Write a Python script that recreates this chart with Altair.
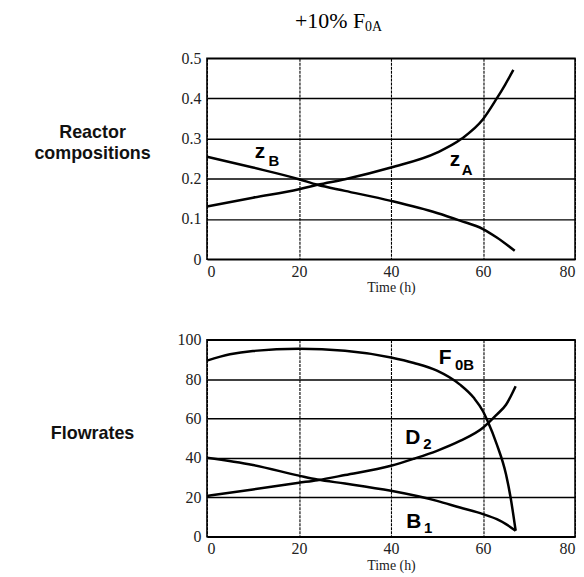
import altair as alt
import pandas as pd

# ---- Top panel: reactor compositions ----
t_zA = [0, 10, 20, 24, 30, 40, 50, 55.4, 60, 63, 64.8, 66.6]
zA = [0.131, 0.153, 0.174, 0.185, 0.199, 0.228, 0.265, 0.300, 0.348, 0.400, 0.434, 0.471]
t_zB = [0, 10, 20, 24, 30, 40, 50, 55, 60, 63, 66.9]
zB = [0.255, 0.228, 0.199, 0.185, 0.170, 0.145, 0.115, 0.096, 0.075, 0.054, 0.021]

# ---- Bottom panel: flowrates ----
t_F0B = [0, 5, 10, 20, 30, 40, 45, 50, 55, 58, 60, 61, 63, 65, 66, 67.1]
F0B = [89.4, 92.6, 94.3, 95.4, 94.4, 91.0, 88.2, 84.3, 77.2, 70.5, 63.7, 58.7, 46.9, 31.7, 19.9, 3.0]
t_D2 = [0, 10, 20, 24, 30, 40, 45, 50, 55, 60, 63, 65, 67.1]
D2 = [20.7, 24.0, 27.4, 28.7, 31.3, 36.0, 39.6, 43.6, 48.6, 55.3, 62.0, 67.0, 76.4]
t_B1 = [0, 10, 20, 24, 30, 40, 50, 55, 60, 63, 65, 67.1]
B1 = [40.1, 36.4, 31.0, 29.0, 27.0, 23.3, 18.2, 14.8, 11.5, 8.9, 6.4, 3.0]

x_ticks = [0, 20, 40, 60, 80]
y_ticks_top = [0, 0.1, 0.2, 0.3, 0.4, 0.5]
y_ticks_bot = [0, 20, 40, 60, 80, 100]

# curve labels: main letter and subscript (t, value, text)
top_main = {"t": [10.4, 52.8], "v": [0.252, 0.233], "s": ["z", "z"]}
top_sub = {"t": [13.4, 55.4], "v": [0.233, 0.210], "s": ["B", "A"]}
bot_main = {"t": [50.4, 43.1, 43.3], "v": [87.9, 47.0, 4.5], "s": ["F", "D", "B"]}
bot_sub = {"t": [53.9, 47.0, 47.2], "v": [84.8, 44.4, 2.0], "s": ["0B", "2", "1"]}

top_df = pd.concat([
    pd.DataFrame({"t": t_zA, "v": zA, "series": "zA"}),
    pd.DataFrame({"t": t_zB, "v": zB, "series": "zB"}),
])
bot_df = pd.concat([
    pd.DataFrame({"t": t_F0B, "v": F0B, "series": "F0B"}),
    pd.DataFrame({"t": t_D2, "v": D2, "series": "D2"}),
    pd.DataFrame({"t": t_B1, "v": B1, "series": "B1"}),
])

W = 370
SANS = "Liberation Sans"
SERIF = "Liberation Serif"


def panel(df, ydom, yticks, yfmt, height, main, sub, side_text, side_y):
    xenc = alt.X("t:Q", scale=alt.Scale(domain=[0, 80], nice=False),
                 axis=alt.Axis(values=x_ticks, tickCount=20, title="Time (h)", grid=True,
                               gridColor="black", gridWidth=1.1, gridDash=[3, 1],
                               labelPadding=4, titlePadding=2, labelOverlap=False))
    yenc = alt.Y("v:Q", scale=alt.Scale(domain=ydom, nice=False),
                 axis=alt.Axis(values=yticks, tickCount=20, title=None, grid=True,
                               format=yfmt, gridColor="black", gridWidth=1.5,
                               labelPadding=6, labelOverlap=False))
    lines = alt.Chart(df).mark_line(color="black", strokeWidth=2.5,
                                    interpolate="monotone").encode(
        x=xenc, y=yenc, detail="series:N")
    m = alt.Chart(pd.DataFrame(main)).mark_text(
        font=SANS, fontWeight="bold", fontSize=21, align="left",
        baseline="alphabetic", color="black").encode(x="t:Q", y="v:Q", text="s:N")
    s = alt.Chart(pd.DataFrame(sub)).mark_text(
        font=SANS, fontWeight="bold", fontSize=15, align="left",
        baseline="alphabetic", color="black").encode(x="t:Q", y="v:Q", text="s:N")
    side = alt.Chart(pd.DataFrame({"a": [0]})).mark_text(
        font=SANS, fontWeight="bold", fontSize=18, align="center",
        baseline="alphabetic", color="#111", lineHeight=21).encode(
        x=alt.value(-115), y=alt.value(side_y), text=alt.value(side_text))
    return alt.layer(lines, m, s, side).properties(width=W, height=height)


top = panel(top_df, [0, 0.5], y_ticks_top, "~g", 202, top_main, top_sub,
            ["Reactor", "compositions"], 80)
bot = panel(bot_df, [0, 100], y_ticks_bot, "d", 198, bot_main, bot_sub,
            ["Flowrates"], 100)

title_main = alt.Chart(pd.DataFrame({"a": [0]})).mark_text(
    font=SERIF, fontSize=22, align="right", baseline="alphabetic", color="black"
).encode(x=alt.value(159), y=alt.value(-30), text=alt.value("+10% F"))
title_sub = alt.Chart(pd.DataFrame({"a": [0]})).mark_text(
    font=SERIF, fontSize=14, align="left", baseline="alphabetic", color="black"
).encode(x=alt.value(159), y=alt.value(-27), text=alt.value("0A"))

top = alt.layer(top, title_main, title_sub)

chart = alt.vconcat(top, bot, spacing=81, bounds="flush").properties(
    padding={"left": 25, "top": 0, "right": 0, "bottom": 0}
).configure_view(stroke="black", strokeWidth=1.5).configure_axis(
    domain=False, ticks=False, labelFont=SERIF, labelFontSize=16,
    labelColor="#222", titleFont=SERIF, titleFontSize=14,
    titleFontWeight="normal", titleColor="#222")

chart.save("out.html", embed_options={"renderer": "svg", "actions": False})
